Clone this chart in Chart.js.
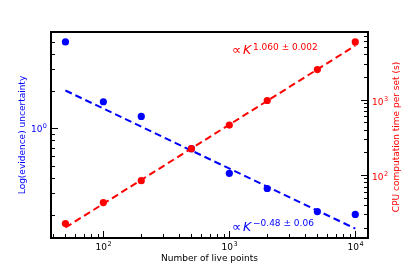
<!DOCTYPE html>
<html>
<head>
<meta charset="utf-8">
<script src="https://cdn.jsdelivr.net/npm/chart.js@4"></script>
<style>
  html, body { margin: 0; padding: 0; background: #fff; }
  #wrap { width: 409px; height: 273px; }
</style>
</head>
<body>
<div id="wrap"><canvas id="chart" width="409" height="273"></canvas></div>
<script>
// number of live points K
const livePoints = [50, 100, 200, 500, 1000, 2000, 5000, 10000];
// Log(evidence) uncertainty (left axis)
const evidenceUncertainty = [4.97, 1.64, 1.25, 0.687, 0.435, 0.328, 0.214, 0.203];
// CPU time per set in seconds (right axis)
const cpuTime = [22.7, 43, 84, 223, 458, 970, 2490, 5800];
// power-law fits, end points
const fitRange = [50, 10000];
const evidenceFit = [2.02, 0.156];
const cpuFit = [20.1, 5180];
// tick labels: value -> exponent of 10
const xTickLabels = { 100: '2', 1000: '3', 10000: '4' };
const leftTickLabels = { 1: '0' };
const rightTickLabels = { 100: '2', 1000: '3' };

const BLUE = '#0000ff';
const RED = '#ff0000';
const FONT = 'DejaVu Sans';

Chart.defaults.font.family = FONT;
Chart.defaults.font.size = 9;

const pairs = (xs, ys) => xs.map((x, i) => ({ x: x, y: ys[i] }));

function logTicks(scale) {
    const out = [];
    const lo = Math.floor(Math.log10(scale.min));
    const hi = Math.ceil(Math.log10(scale.max));
    for (let e = lo; e <= hi; e++) {
        for (let d = 1; d < 10; d++) {
            const v = Number((d * Math.pow(10, e)).toPrecision(3));
            if (v >= scale.min && v <= scale.max) out.push({ value: v });
        }
    }
    scale.ticks = out;
}

// "10" with a raised exponent; align = 'center' | 'right' | 'left'
function drawPower(ctx, exp, x, baseline, align, color) {
    ctx.font = '9px "' + FONT + '"';
    const w1 = ctx.measureText('10').width;
    ctx.font = '6.5px "' + FONT + '"';
    const w2 = ctx.measureText(exp).width;
    const total = w1 + w2 + 0.5;
    let x0 = x;
    if (align === 'center') x0 = x - total / 2;
    else if (align === 'right') x0 = x - total;
    ctx.fillStyle = color;
    ctx.textAlign = 'left';
    ctx.textBaseline = 'alphabetic';
    ctx.font = '9px "' + FONT + '"';
    ctx.fillText('10', x0, baseline);
    ctx.font = '6.5px "' + FONT + '"';
    ctx.fillText(exp, x0 + w1 + 0.5, baseline - 4);
}

// inward ticks, tick labels, frame, right-hand title and fit annotations
const decorations = {
    id: 'decorations',
    afterDraw(chart) {
        const { ctx, chartArea: a, scales } = chart;
        ctx.save();
        ctx.strokeStyle = '#000';
        ctx.lineWidth = 1;
        const isMajor = v => Math.abs(Math.log10(v) - Math.round(Math.log10(v))) < 1e-9;

        scales.x.ticks.forEach(t => {
            const px = Math.round(scales.x.getPixelForValue(t.value)) + 0.5;
            const len = isMajor(t.value) ? 7 : 4;
            ctx.beginPath();
            ctx.moveTo(px, a.bottom);
            ctx.lineTo(px, a.bottom - len);
            ctx.stroke();
            if (xTickLabels[t.value]) drawPower(ctx, xTickLabels[t.value], px, 250, 'center', '#000');
        });
        scales.y.ticks.forEach(t => {
            const py = Math.round(scales.y.getPixelForValue(t.value)) + 0.5;
            const len = isMajor(t.value) ? 7 : 4;
            ctx.beginPath();
            ctx.moveTo(a.left, py);
            ctx.lineTo(a.left + len, py);
            ctx.stroke();
            if (leftTickLabels[t.value]) drawPower(ctx, leftTickLabels[t.value], a.left - 4, py + 3.5, 'right', BLUE);
        });
        scales.y1.ticks.forEach(t => {
            const py = Math.round(scales.y1.getPixelForValue(t.value)) + 0.5;
            const len = isMajor(t.value) ? 7 : 4;
            ctx.beginPath();
            ctx.moveTo(a.right, py);
            ctx.lineTo(a.right - len, py);
            ctx.stroke();
            if (rightTickLabels[t.value]) drawPower(ctx, rightTickLabels[t.value], a.right + 4, py + 4, 'left', RED);
        });

        ctx.lineWidth = 2;
        ctx.strokeRect(a.left, a.top, a.right - a.left, a.bottom - a.top);

        // right axis title, reading bottom to top
        ctx.fillStyle = RED;
        ctx.font = '9px "' + FONT + '"';
        ctx.textAlign = 'center';
        ctx.textBaseline = 'middle';
        ctx.translate(397, (a.top + a.bottom) / 2 + 2);
        ctx.rotate(-Math.PI / 2);
        ctx.fillText('CPU computation time per set (s)', 0, 0);
        ctx.restore();

        drawPowerLaw(ctx, a.left + 181, a.top + 22, '1.060 ± 0.002', RED);
        drawPowerLaw(ctx, a.left + 181, a.bottom - 7.5, '−0.48 ± 0.06', BLUE);
    }
};

function drawPowerLaw(ctx, x, baseline, exponent, color) {
    ctx.save();
    ctx.fillStyle = color;
    ctx.textAlign = 'left';
    ctx.textBaseline = 'alphabetic';
    ctx.font = '13px "' + FONT + '"';
    ctx.fillText('∝', x, baseline);
    ctx.font = 'italic 12.5px "' + FONT + '"';
    ctx.fillText('K', x + 11, baseline);
    ctx.font = '9px "' + FONT + '"';
    ctx.fillText(exponent, x + 21, baseline - 4.5);
    ctx.restore();
}

new Chart(document.getElementById('chart'), {
    type: 'scatter',
    data: {
        datasets: [
            {
                data: pairs(fitRange, evidenceFit),
                yAxisID: 'y',
                showLine: true,
                borderColor: BLUE,
                borderWidth: 2,
                borderDash: [7, 4],
                pointRadius: 0,
                order: 4
            },
            {
                data: pairs(livePoints, evidenceUncertainty),
                yAxisID: 'y',
                backgroundColor: BLUE,
                borderWidth: 0,
                pointRadius: 3.6,
                order: 3
            },
            {
                data: pairs(fitRange, cpuFit),
                yAxisID: 'y1',
                showLine: true,
                borderColor: RED,
                borderWidth: 2,
                borderDash: [7, 4],
                pointRadius: 0,
                order: 2
            },
            {
                data: pairs(livePoints, cpuTime),
                yAxisID: 'y1',
                backgroundColor: RED,
                borderWidth: 0,
                pointRadius: 3.6,
                order: 1
            }
        ]
    },
    options: {
        responsive: false,
        animation: false,
        layout: { padding: { top: 32, left: 0, right: 0, bottom: 0 } },
        plugins: {
            legend: { display: false },
            tooltip: { enabled: false }
        },
        scales: {
            x: {
                type: 'logarithmic',
                min: 38.4,
                max: 12620,
                afterBuildTicks: logTicks,
                afterFit: s => { s.height = 35; },
                grid: { display: false, drawTicks: false },
                border: { display: false },
                ticks: { display: false, autoSkip: false },
                title: {
                    display: true,
                    text: 'Number of live points',
                    color: '#000',
                    font: { size: 9 },
                    padding: { top: 0, bottom: 9 }
                }
            },
            y: {
                type: 'logarithmic',
                position: 'left',
                min: 0.131,
                max: 5.98,
                afterBuildTicks: logTicks,
                afterFit: s => { s.width = 51; },
                grid: { display: false, drawTicks: false },
                border: { display: false },
                ticks: { display: false, autoSkip: false },
                title: {
                    display: true,
                    text: 'Log(evidence) uncertainty',
                    color: BLUE,
                    font: { size: 9 },
                    padding: { top: 17, bottom: 0 }
                }
            },
            y1: {
                type: 'logarithmic',
                position: 'right',
                min: 14.6,
                max: 7850,
                afterBuildTicks: logTicks,
                afterFit: s => { s.width = 41; },
                grid: { display: false, drawTicks: false },
                border: { display: false },
                ticks: { display: false, autoSkip: false }
            }
        }
    },
    plugins: [decorations]
});
</script>
</body>
</html>
